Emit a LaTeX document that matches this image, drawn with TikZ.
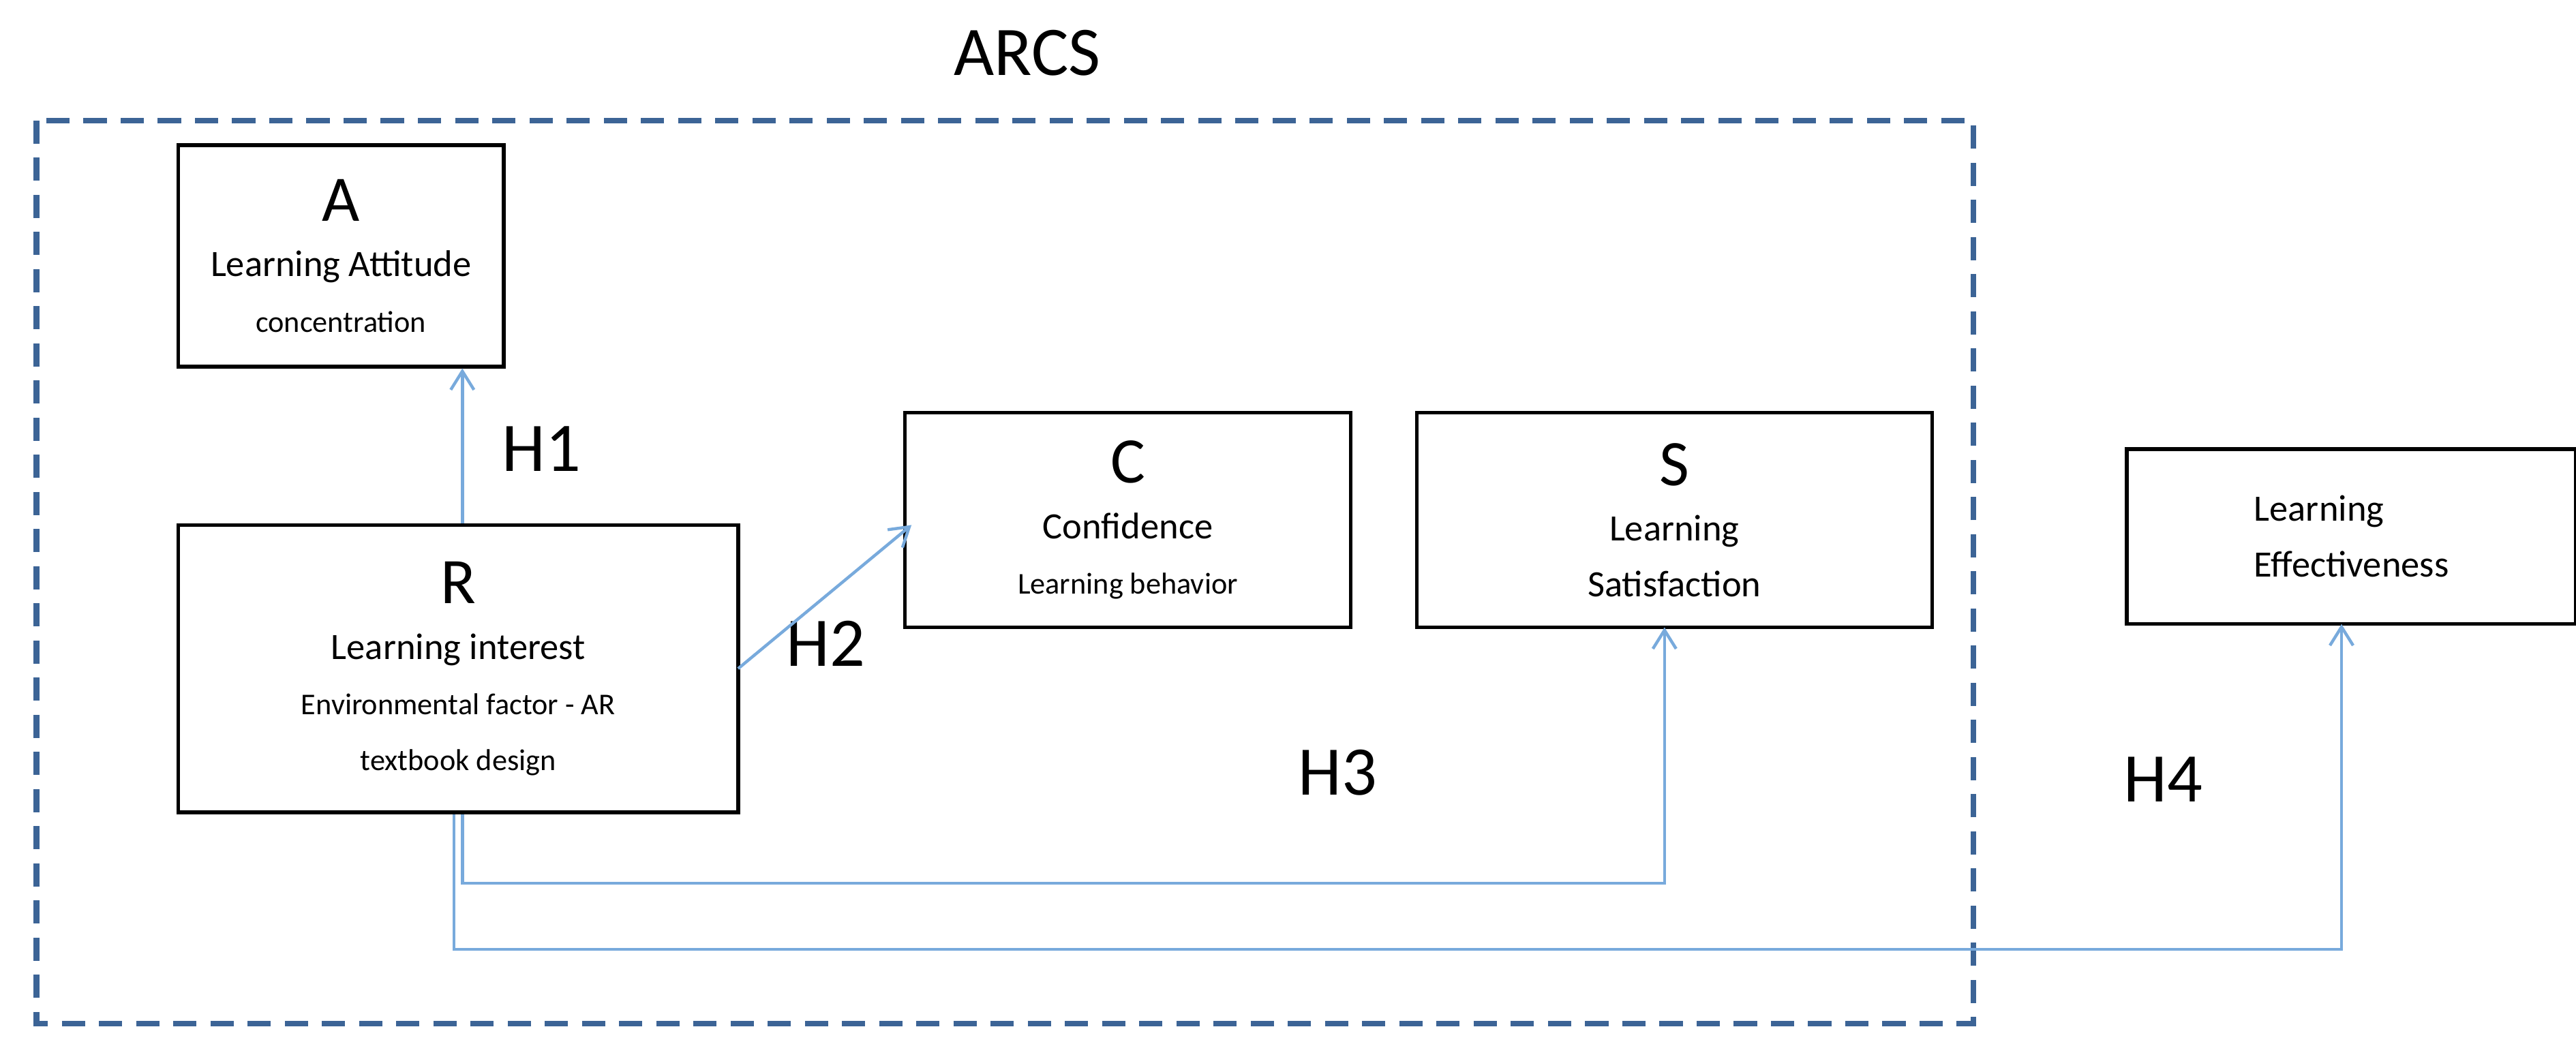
\documentclass[tikz,border=0pt]{standalone}
\usepackage{fontspec}
\setmainfont{Carlito}
\usetikzlibrary{arrows.meta}
\definecolor{dashblue}{RGB}{60,100,150}
\begin{document}
\begin{tikzpicture}[x=0.025cm,y=-0.025cm,
 box/.style={draw,line width=1.6pt,align=center,inner sep=0pt,font=\fontsize{15}{24}\selectfont},
 arr/.style={draw={rgb,255:red,120;green,170;blue,220},line width=1.3pt,-{Straight Barb[length=8pt,width=10pt]}},
 lab/.style={font=\fontsize{30}{32}\selectfont}]
\useasboundingbox (0,0) rectangle (1560,640);
\draw[dashblue,line width=2.5pt,dash pattern=on 10pt off 6pt] (22,73) rectangle (1195,620);
\node[lab] (arcs) at (622,32) {ARCS};
\node[box,minimum width=197*0.025cm,minimum height=134*0.025cm] (A) at (206.5,155)
 {{\fontsize{28}{30}\selectfont A}\\{\fontsize{16}{20}\selectfont Learning Attitude}\\{\fontsize{13}{18}\selectfont concentration}};
\node[box,minimum width=339*0.025cm,minimum height=174*0.025cm] (R) at (277.5,405)
 {{\fontsize{28}{30}\selectfont R}\\{\fontsize{16}{20}\selectfont Learning interest}\\{\fontsize{13}{18}\selectfont Environmental factor - AR}\\{\fontsize{13}{18}\selectfont textbook design}};
\node[box,minimum width=270*0.025cm,minimum height=130*0.025cm] (C) at (683,315)
 {{\fontsize{28}{30}\selectfont C}\\{\fontsize{16}{20}\selectfont Confidence}\\{\fontsize{13}{18}\selectfont Learning behavior}};
\node[box,minimum width=312*0.025cm,minimum height=130*0.025cm] (S) at (1014,315)
 {{\fontsize{28}{30}\selectfont S}\\{\fontsize{16}{20}\selectfont Learning}\\{\fontsize{16}{20}\selectfont Satisfaction}};
\node[box,minimum width=272*0.025cm,minimum height=106*0.025cm,align=left] (LE) at (1424,325)
 {{\fontsize{16}{20}\selectfont Learning}\\{\fontsize{16}{20}\selectfont Effectiveness}};
\node[lab] (h1) at (328,272) {H1};
\node[lab] (h2) at (500,390) {H2};
\node[lab] (h3) at (810,468) {H3};
\node[lab] (h4) at (1310,472) {H4};
\coordinate (c3) at (280,535);
\coordinate (c4) at (275,575);
\coordinate (s3) at (1008,380);
\coordinate (l4) at (1418,378);
\coordinate (r2) at (447,405);
\coordinate (c2) at (552,318);
\path[arr] (R.north -| 280,0) -- (A.south -| 280,0);
\path[arr] (r2) -- (c2);
\path[arr] (R.south -| c3) -- (c3) -- (c3 -| s3) -- (s3);
\path[arr] (R.south -| c4) -- (c4) -- (c4 -| l4) -- (l4);
\end{tikzpicture}
\end{document}
